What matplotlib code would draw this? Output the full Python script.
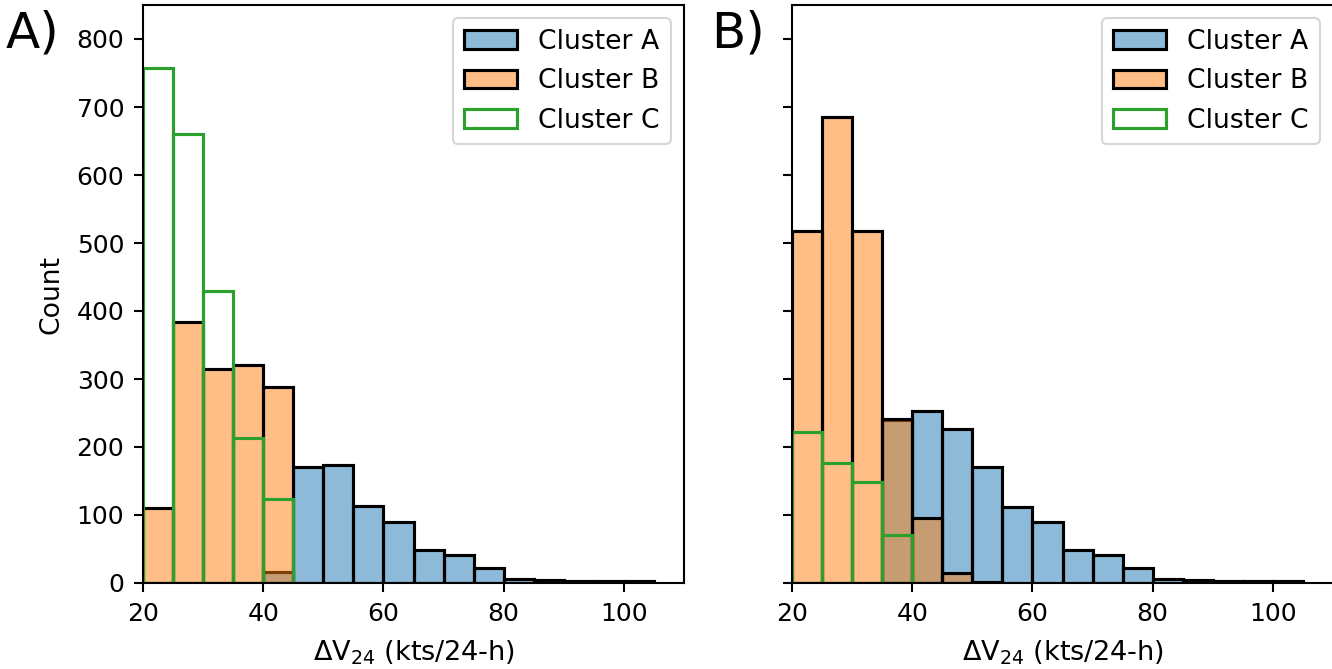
import numpy as np
import matplotlib
matplotlib.use("Agg")
from matplotlib import pyplot as plt

# bin left edges (5 kt wide bins, 20 to 105)
bin_edges = [20, 25, 30, 35, 40, 45, 50, 55, 60, 65, 70, 75, 80, 85, 90, 95, 100]
bin_width = 5

# panel A counts
a_clusterA = [0, 0, 0, 0, 16, 170, 173, 113, 90, 49, 41, 22, 6, 4, 3, 3, 3]
a_clusterB = [111, 384, 315, 320, 288, 0, 0, 0, 0, 0, 0, 0, 0, 0, 0, 0, 0]
a_clusterC = [758, 661, 429, 213, 123, 0, 0, 0, 0, 0, 0, 0, 0, 0, 0, 0, 0]

# panel B counts
b_clusterA = [0, 0, 0, 239, 253, 227, 171, 112, 90, 49, 41, 22, 6, 4, 3, 3, 3]
b_clusterB = [517, 686, 518, 241, 95, 14, 2, 0, 0, 0, 0, 0, 0, 0, 0, 0, 0]
b_clusterC = [222, 177, 148, 71, 0, 0, 0, 0, 0, 0, 0, 0, 0, 0, 0, 0, 0]

labels = ["Cluster A", "Cluster B", "Cluster C"]
panel_names = ["A)", "B)"]


def draw_panel(ax, countsA, countsB, countsC):
    x = np.array(bin_edges, dtype=float)
    cA = np.array(countsA)
    cB = np.array(countsB)
    cC = np.array(countsC)

    m = cA > 0
    ax.bar(x[m], cA[m], width=bin_width, align="edge",
           color="tab:blue", alpha=0.5, edgecolor="none")
    ax.bar(x[m], cA[m], width=bin_width, align="edge",
           fill=False, edgecolor="k", linewidth=1.5)

    m = cB > 0
    ax.bar(x[m], cB[m], width=bin_width, align="edge",
           color="tab:orange", alpha=0.5, edgecolor="none")
    ax.bar(x[m], cB[m], width=bin_width, align="edge",
           fill=False, edgecolor="k", linewidth=1.5)

    m = cC > 0
    ax.bar(x[m], cC[m], width=bin_width, align="edge",
           fill=False, edgecolor="tab:green", linewidth=1.5)

    # legend handles
    hA = plt.Rectangle((0, 0), 1, 1, facecolor=(31/255, 119/255, 180/255, 0.5),
                       edgecolor="k", linewidth=1.5)
    hB = plt.Rectangle((0, 0), 1, 1, facecolor=(1.0, 127/255, 14/255, 0.5),
                       edgecolor="k", linewidth=1.5)
    hC = plt.Rectangle((0, 0), 1, 1, facecolor="none",
                       edgecolor="tab:green", linewidth=1.5)
    ax.legend([hA, hB, hC], labels, loc="upper right", fontsize=12.8)

    ax.set_xlim(20, 110)
    ax.set_ylim(0, 850)
    ax.set_xticks([20, 40, 60, 80, 100])
    ax.set_yticks(np.arange(0, 900, 100))
    ax.tick_params(labelsize=12, length=4.4, width=1.0, pad=4.6)
    for s in ax.spines.values():
        s.set_linewidth(1.0)
    ax.set_xlabel(r"$\Delta$V$_{24}$ (kts/24-h)", fontsize=13, labelpad=6)


fig = plt.figure(figsize=(8.88, 4.46), dpi=150)
ax1 = fig.add_axes([143 / 1332, 1 - 583 / 669, 541 / 1332, 578 / 669])
ax2 = fig.add_axes([792 / 1332, 1 - 583 / 669, 541 / 1332, 578 / 669])

draw_panel(ax1, a_clusterA, a_clusterB, a_clusterC)
draw_panel(ax2, b_clusterA, b_clusterB, b_clusterC)

ax1.set_ylabel("Count", fontsize=12.8, labelpad=6)
ax2.tick_params(labelleft=False)

fig.text(6 / 1332, 1 - 48 / 669, panel_names[0], fontsize=24, va="baseline")
fig.text(711 / 1332, 1 - 48 / 669, panel_names[1], fontsize=24, va="baseline")

fig.savefig("out.png", dpi=150)
